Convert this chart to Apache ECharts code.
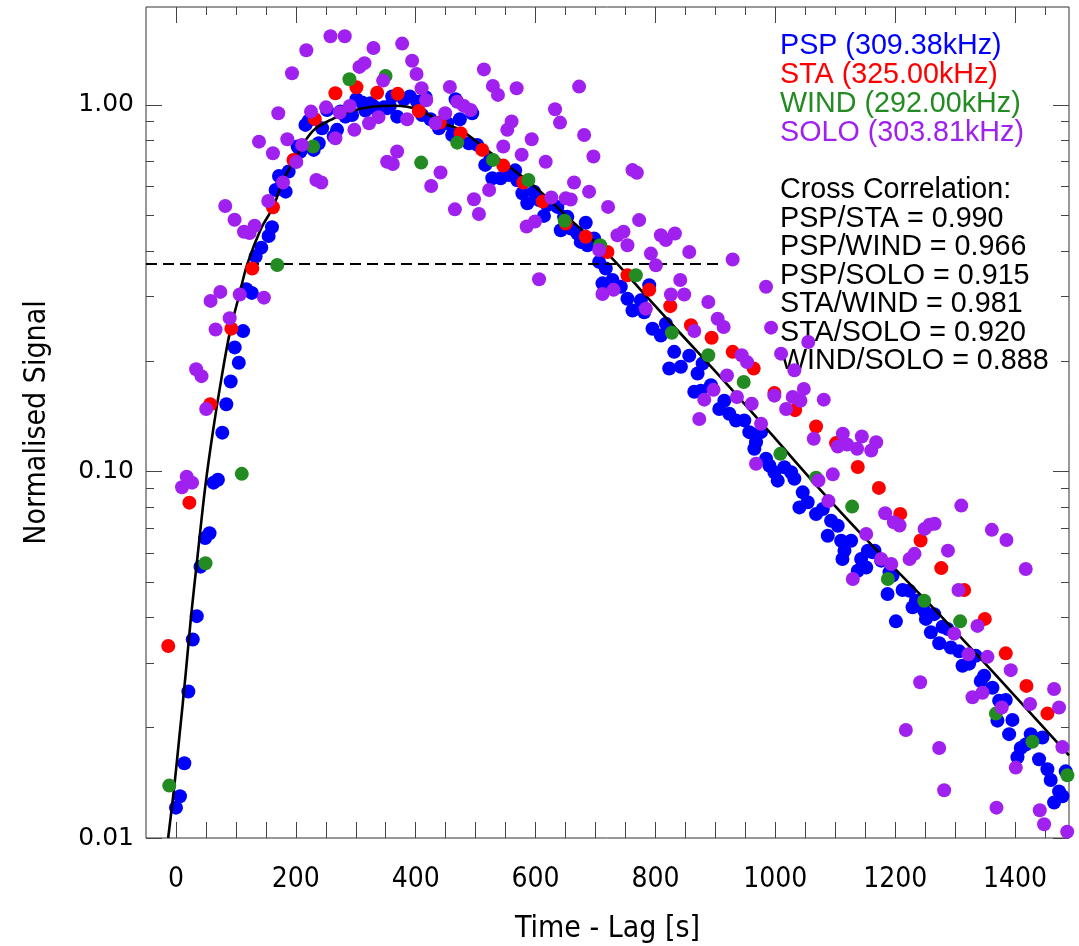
<!DOCTYPE html>
<html>
<head>
<meta charset="utf-8">
<script src="https://cdn.jsdelivr.net/npm/echarts@6/dist/echarts.min.js"></script>
<style>
html,body{margin:0;padding:0;background:#fff;}
#chart{width:1079px;height:946px;}
</style>
</head>
<body>
<div id="chart"></div>
<script>
// ---------------- data ----------------
const xTickLabels = [0, 200, 400, 600, 800, 1000, 1200, 1400];
const xMinorTicks = [50, 100, 150, 250, 300, 350, 450, 500, 550, 650, 700, 750, 850, 900, 950, 1050, 1100, 1150, 1250, 1300, 1350, 1450];
const yTickLabels = [0.01, 0.1, 1];
const yMinorTicks = [0.02, 0.03, 0.04, 0.05, 0.06, 0.07, 0.08, 0.09, 0.2, 0.3, 0.4, 0.5, 0.6, 0.7, 0.8, 0.9];

const pspData = [
[0,0.0121],[6.7,0.013],[14,0.016],[20.7,0.0251],[28,0.0348],[34.7,0.0403],[40.9,0.055],[48.7,0.0658],[56,0.0678],[62.7,0.0932],
[70,0.0949],[77.3,0.1276],[84,0.1526],[91.3,0.176],[98,0.218],[104.8,0.198],[112,0.2415],[117.3,0.314],[126.6,0.307],[132.9,0.386],
[142.3,0.408],[154.6,0.439],[160.2,0.464],[166.3,0.586],[171.9,0.64],[175.8,0.601],[183,0.58],[188,0.658],[203,0.77],[207.5,0.745],
[216,0.882],[221.5,0.906],[229.8,0.754],[238.2,0.786],[243.8,0.864],[252,0.969],[263.2,0.82],[268.8,0.855],[274.3,0.96],[282.7,0.929],
[293.8,0.939],[301.1,1.036],[310.6,1.015],[316.1,0.965],[324.5,1.01],[330.1,0.99],[335.7,0.969],[346.8,0.985],[352.4,0.98],[356.8,0.994],
[360.7,1.054],[369.1,0.929],[380.2,1.036],[390.2,1.054],[402.4,1.02],[410.6,0.939],[416.4,1.05],[424.7,0.914],[438.7,0.864],[452.6,0.891],
[460.9,0.828],[466.5,1.036],[473.7,0.914],[488.8,0.786],[494.3,0.949],[502.7,0.778],[516,0.686],[523.9,0.708],[527.8,0.631],[541.7,0.631],
[555.6,0.644],[566,0.663],[569.5,0.623],[578,0.574],[586.2,0.539],[597.4,0.58],[605.7,0.55],[614,0.498],[619.7,0.533],[636.4,0.527],
[642,0.455],[647.5,0.495],[653,0.495],[658.7,0.46],[669.8,0.446],[675.4,0.423],[683.7,0.477],[686.5,0.414],[697.6,0.432],[706,0.373],
[711.6,0.326],[717.1,0.358],[720,0.318],[728.3,0.333],[742.2,0.319],[753.3,0.296],[761.7,0.275],[775.6,0.293],[781.2,0.272],[789.6,0.322],
[795.1,0.245],[809,0.235],[817.4,0.253],[823,0.191],[831.3,0.212],[842.5,0.193],[856.4,0.207],[864.8,0.165],[870.3,0.185],[875.9,0.166],
[878.7,0.197],[892.6,0.172],[906.5,0.148],[914.9,0.156],[923.2,0.1437],[934.4,0.1377],[948.3,0.1378],[956.6,0.128],[965,0.1153],[967.8,0.1202],
[976.1,0.128],[984.5,0.1083],[990,0.1038],[998.4,0.0995],[1004,0.0944],[1015.1,0.1027],[1026.3,0.0995],[1031.8,0.0955],[1040.2,0.0798],[1045.7,0.0877],
[1054,0.0824],[1068,0.0765],[1079.2,0.079],[1087.5,0.0668],[1093,0.0734],[1104.2,0.0711],[1109.8,0.0647],[1112,0.0577],[1115.4,0.0608],[1126.5,0.0647],
[1137.6,0.0536],[1143.2,0.0577],[1151.6,0.0547],[1154.4,0.0608],[1162.3,0.0602],[1165.5,0.0608],[1176.6,0.0571],[1187.3,0.0463],[1190.6,0.0531],[1195.6,0.052],
[1201.2,0.039],[1212.3,0.0475],[1223.4,0.0473],[1229,0.0426],[1234.5,0.0444],[1248.4,0.0417],[1251.2,0.0396],[1259.5,0.0364],[1265.1,0.0408],[1273.4,0.034],
[1279,0.0377],[1287.3,0.0372],[1292.8,0.0331],[1306.7,0.0323],[1312.3,0.0295],[1323.4,0.0299],[1334.5,0.0314],[1342.8,0.0268],[1348.4,0.0277],[1362.3,0.0257],
[1370.6,0.0209],[1373.4,0.0237],[1384.5,0.0238],[1390.1,0.0192],[1395.6,0.021],[1404,0.0166],[1409.5,0.0176],[1417.8,0.018],[1426.2,0.0192],[1440,0.0164],
[1445.6,0.0188],[1454,0.0154],[1459.5,0.0144],[1465.1,0.0125],[1473.4,0.0134],[1479,0.013],[1484.5,0.0152]
];

const staData = [
[-12.9,0.0334],[22.4,0.0822],[57.1,0.1526],[92.4,0.2453],[127.3,0.358],[161.8,0.526],[196,0.708],[231.7,0.916],[266,1.076],[301.1,1.117],
[335.7,1.08],[370.1,1.072],[405.2,0.963],[440.3,0.895],[474.8,0.837],[511,0.754],[546.1,0.683],[579.5,0.614],[612,0.545],[650.3,0.475],
[683.7,0.437],[719.9,0.397],[753.3,0.343],[789.6,0.313],[824.7,0.2825],[859.2,0.2505],[893.7,0.2317],[928.8,0.212],[963.9,0.191],[998.4,0.1637],
[1033,0.147],[1068,0.1326],[1101.4,0.1195],[1137.6,0.1028],[1172.8,0.0902],[1208.4,0.0766],[1242.4,0.0648],[1276.9,0.0545],[1315,0.0475],[1349.5,0.0396],
[1384.5,0.0319],[1419,0.026],[1454,0.02185]
];

const windData = [
[-11.2,0.0139],[49.3,0.0562],[109.8,0.0985],[169,0.366],[228.7,0.77],[289.4,1.175],[349.7,1.2],[409.1,0.696],[469.3,0.789],[529,0.708],
[588,0.624],[648.6,0.483],[707.7,0.414],[767.3,0.343],[827.4,0.239],[888.2,0.2075],[947.2,0.1754],[1008.4,0.1117],[1068,0.0961],[1128.2,0.0802],
[1187.8,0.0509],[1248.4,0.0444],[1308.4,0.039],[1368,0.02185],[1429,0.0183],[1487.3,0.01483]
];

const soloData = [
[10.1,0.0906],[17.9,0.0968],[26.9,0.0932],[33.6,0.19],[42.6,0.182],[50.4,0.148],[57.7,0.292],[66.1,0.244],[74,0.309],[82.2,0.53],
[89.6,0.262],[97.8,0.486],[106.4,0.304],[113.4,0.451],[122.9,0.447],[131.2,0.468],[138.5,0.794],[146.8,0.298],[154,0.547],[161.8,0.738],
[170.7,0.949],[178.6,0.614],[185.8,0.806],[193.6,1.22],[200.8,0.699],[210.4,0.778],[217.5,1.41],[225.3,0.959],[234.3,0.624],[242.6,0.614],
[250.4,0.985],[257.8,1.54],[266,0.811],[273.3,0.953],[281.6,1.54],[290,0.994],[297.7,0.855],[306.1,1.27],[314.5,1.3],[322.2,0.891],
[329.5,1.43],[337.9,0.926],[345.6,1.165],[352.3,0.7],[361.8,0.69],[369,0.746],[377.4,1.47],[385.7,0.914],[394,1.32],[401.4,1.215],
[409.8,1.11],[417.5,1.03],[425.8,0.601],[433,0.891],[441.4,0.654],[449.2,0.949],[457,1.12],[465.4,0.519],[469.3,1.02],[480.4,0.994],
[491.6,0.969],[497.2,0.553],[505.5,0.504],[513.8,1.25],[522.5,0.586],[528.8,1.127],[537.2,1.065],[546.1,0.77],[552.8,0.855],[560,0.901],
[568.4,1.11],[576.8,0.731],[585.1,0.466],[593.5,0.806],[599,0.481],[605.8,0.3345],[616.9,0.7],[626.3,0.559],[632.5,0.973],[640.8,0.895],
[650.3,0.556],[658.7,0.552],[664.2,0.614],[672.6,1.122],[681,0.828],[689.3,0.58],[696.5,0.723],[706,0.402],[711.6,0.305],[721,0.527],
[730,0.313],[736.6,0.441],[746.7,0.451],[753.3,0.414],[761.7,0.664],[769,0.653],[772.8,0.485],[784,0.278],[792.4,0.393],[800.7,0.365],
[809,0.441],[817.4,0.428],[825.8,0.304],[832.5,0.446],[841.4,0.333],[848,0.304],[856.4,0.397],[864.8,0.2416],[873.1,0.139],[881.5,0.157],
[888.2,0.29],[897,0.167],[903.8,0.261],[913.8,0.2478],[919.3,0.1828],[928.8,0.3786],[936,0.1596],[943.9,0.2075],[952.8,0.1988],[960.6,0.153],
[967.8,0.105],[976.2,0.135],[984.5,0.319],[992.9,0.2468],[998.4,0.161],[1009.6,0.2096],[1018,0.148],[1029,0.1596],[1031.8,0.1888],[1041.9,0.156],
[1047.5,0.168],[1055,0.2256],[1064.1,0.1228],[1072,0.0945],[1080.8,0.157],[1088.6,0.083],[1095.9,0.0982],[1104.2,0.117],[1112.6,0.1267],[1119.8,0.1185],
[1129.3,0.0509],[1136.5,0.1153],[1144.3,0.1246],[1151.6,0.0675],[1160,0.1141],[1168.3,0.1202],[1176.6,0.0577],[1183.3,0.0769],[1193.4,0.0559],[1197.8,0.0727],
[1207.3,0.0712],[1217.8,0.0197],[1224,0.0577],[1232.3,0.0596],[1241.7,0.0266],[1249,0.0697],[1257.4,0.0716],[1265.8,0.072],[1273.4,0.0176],[1281.7,0.0135],
[1288,0.0608],[1298.4,0.0361],[1305.6,0.0475],[1310.3,0.0807],[1322.3,0.0317],[1329,0.0242],[1337.3,0.0379],[1345.6,0.0249],[1354,0.0312],[1361.2,0.0693],
[1369,0.0121],[1377.8,0.0227],[1385.6,0.065],[1392.8,0.0287],[1401.2,0.01556],[1417.8,0.0542],[1425,0.0232],[1441.2,0.0119],[1448.4,0.0109],[1465.1,0.0255],
[1473.4,0.0227],[1479,0.0177],[1487,0.0104]
];

// fitted profile
const fitX = [-13, -3, 6, 16, 25, 36, 49, 62, 76, 90, 106, 119, 142, 162, 179, 200, 216, 232, 258, 290, 330, 365, 405, 447, 475, 519, 592, 659, 720, 776, 820, 876, 932, 996, 1065, 1149, 1257, 1368, 1490];
const fitY = [0.01, 0.01375, 0.0191, 0.0278, 0.04, 0.0587, 0.0912, 0.1297, 0.18, 0.24, 0.305, 0.368, 0.46, 0.526, 0.623, 0.72, 0.8, 0.86, 0.91, 0.96, 0.99, 0.995, 0.97, 0.89, 0.855, 0.753, 0.611, 0.485, 0.393, 0.312, 0.26, 0.207, 0.164, 0.125, 0.093, 0.066, 0.0435, 0.0278, 0.0168];

// 1/e threshold (dashed)
const thresholdX = [-50, 910];
const thresholdY = [0.368, 0.368];

const legendLines = ['PSP (309.38kHz)', 'STA (325.00kHz)', 'WIND (292.00kHz)', 'SOLO (303.81kHz)'];
const corrLines = ['Cross Correlation:', 'PSP/STA = 0.990', 'PSP/WIND = 0.966', 'PSP/SOLO = 0.915', 'STA/WIND = 0.981', 'STA/SOLO = 0.920', 'WIND/SOLO = 0.888'];

// ---------------- styles ----------------
const COLORS = ['#0000FF', '#FF0000', '#228B22', '#A020F0'];
const narrow = "'Liberation Sans Narrow', 'DejaVu Sans Condensed', sans-serif";
const tickColor = '#444';

const chart = echarts.init(document.getElementById('chart'), null, {renderer: 'canvas'});

function xAxisDef(position, values, len, withLabels) {
  return {
    type: 'value', position: position, min: -50, max: 1490,
    axisLine: {show: false, onZero: false},
    splitLine: {show: false},
    axisTick: {show: true, inside: true, length: len, customValues: values, lineStyle: {color: tickColor, width: 1}},
    axisLabel: withLabels ? {show: true, customValues: values, margin: 28, fontFamily: narrow, fontSize: 28, color: '#000',
      formatter: function (v) { return String(v); }} : {show: false},
    name: withLabels ? 'Time - Lag [s]' : '',
    nameLocation: 'middle', nameGap: 76,
    nameTextStyle: {fontFamily: narrow, fontSize: 30, color: '#000'}
  };
}
function yAxisDef(position, values, len, withLabels) {
  return {
    type: 'log', logBase: 10, position: position, min: 0.01, max: 1.85,
    axisLine: {show: false, onZero: false},
    splitLine: {show: false},
    minorTick: {show: false},
    axisTick: {show: true, inside: true, length: len, customValues: values, lineStyle: {color: tickColor, width: 1}},
    axisLabel: withLabels ? {show: true, customValues: values, margin: 12, fontFamily: 'DejaVu Sans', fontSize: 25, color: '#000',
      formatter: function (v) { return Number(v).toFixed(2); }} : {show: false},
    name: withLabels ? 'Normalised Signal' : '',
    nameLocation: 'middle', nameGap: 94, nameRotate: 90,
    nameTextStyle: {fontFamily: narrow, fontSize: 30, color: '#000'}
  };
}

const pairs = (xs, ys) => xs.map((x, i) => [x, ys[i]]);

const textFont = "28.7px 'Liberation Sans', Arial, sans-serif";
const graphics = [];
legendLines.forEach((t, i) => {
  graphics.push({type: 'text', left: 780, top: 32 + i * 28.8,
    style: {text: t, fill: COLORS[i], font: textFont}});
});
corrLines.forEach((t, i) => {
  graphics.push({type: 'text', left: 780, top: 176 + i * 28.5,
    style: {text: t, fill: '#000', font: textFont}});
});

const option = {
  animation: false,
  backgroundColor: '#fff',
  grid: {left: 146, right: 10, top: 7, bottom: 108, show: true, borderColor: '#333', borderWidth: 1,
         backgroundColor: 'transparent', containLabel: false, outerBoundsMode: 'none'},
  xAxis: [
    xAxisDef('bottom', xTickLabels, 16, true),
    xAxisDef('bottom', xMinorTicks, 16, false),
    xAxisDef('top', xTickLabels, 16, false),
    xAxisDef('top', xMinorTicks, 8, false)
  ],
  yAxis: [
    yAxisDef('left', yTickLabels, 16, true),
    yAxisDef('left', yMinorTicks, 8, false),
    yAxisDef('right', yTickLabels, 16, false),
    yAxisDef('right', yMinorTicks, 8, false)
  ],
  series: [
    {name: 'PSP', type: 'scatter', data: pspData, symbol: 'circle', symbolSize: 14, itemStyle: {color: COLORS[0], opacity: 1}, z: 2},
    {name: 'fit', type: 'line', data: pairs(fitX, fitY), showSymbol: false, smooth: 0.35, lineStyle: {color: '#000', width: 2.6}, z: 3, silent: true},
    {name: 'threshold', type: 'line', data: pairs(thresholdX, thresholdY), showSymbol: false, lineStyle: {color: '#000', width: 2, type: [11, 6]}, z: 3, silent: true},
    {name: 'STA', type: 'scatter', data: staData, symbol: 'circle', symbolSize: 14, itemStyle: {color: COLORS[1], opacity: 1}, z: 4},
    {name: 'WIND', type: 'scatter', data: windData, symbol: 'circle', symbolSize: 14, itemStyle: {color: COLORS[2], opacity: 1}, z: 5},
    {name: 'SOLO', type: 'scatter', data: soloData, symbol: 'circle', symbolSize: 14, itemStyle: {color: COLORS[3], opacity: 1}, z: 6}
  ],
  graphic: graphics
};
chart.setOption(option);
</script>
</body>
</html>
